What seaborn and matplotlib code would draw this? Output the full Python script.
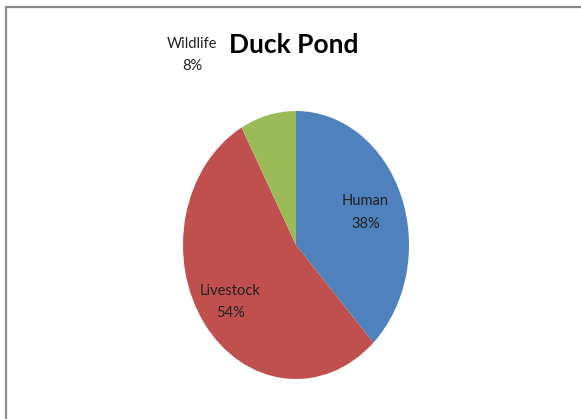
import seaborn as sns
import matplotlib.pyplot as plt
from matplotlib.lines import Line2D
import numpy as np

# data
categories = ["Human", "Livestock", "Wildlife"]
shares = [38, 54, 8]
colors = ["#4F81BD", "#C0504D", "#9BBB59"]
title = "Duck Pond"

sns.set_style("white")
plt.rcParams["font.family"] = ["Lato", "DejaVu Sans"]

W, H = 581, 419
fig = plt.figure(figsize=(W / 100, H / 100), dpi=100)

# grey chart frame (top + left edges only visible)
fig.add_artist(Line2D([6 / W, 1], [1 - 7 / H, 1 - 7 / H], transform=fig.transFigure,
                      color="#8c8c8c", lw=1.6))
fig.add_artist(Line2D([6 / W, 6 / W], [0, 1 - 7 / H], transform=fig.transFigure,
                      color="#8c8c8c", lw=1.6))

# pie is stretched vertically like the original
ax = fig.add_axes([183 / W, 40 / H, 226 / W, 268 / H])
wedges, _ = ax.pie(shares, colors=colors, startangle=90, counterclock=False,
                   wedgeprops=dict(linewidth=0))
ax.set_aspect("auto")
ax.set_xlim(-1, 1)
ax.set_ylim(-1, 1)
ax.axis("off")

# label positions (Excel best fit): distance from centre, wildlife pushed outside
dist = [0.66, 0.72, None]
for w, name, v, d in zip(wedges, categories, shares, dist):
    lab = f"{name}\n{v}%"
    if d is None:
        x, y = -0.92, 1.42
    else:
        a = np.deg2rad((w.theta1 + w.theta2) / 2)
        x, y = d * np.cos(a), d * np.sin(a)
    ax.text(x, y, lab, ha="center", va="center", fontsize=10.5, color="#222222",
            linespacing=1.75, clip_on=False)

fig.text(294 / W, 1 - 45 / H, title, ha="center", va="center", fontsize=19,
         fontweight="bold", color="black")

fig.savefig("out.png", dpi=100)
